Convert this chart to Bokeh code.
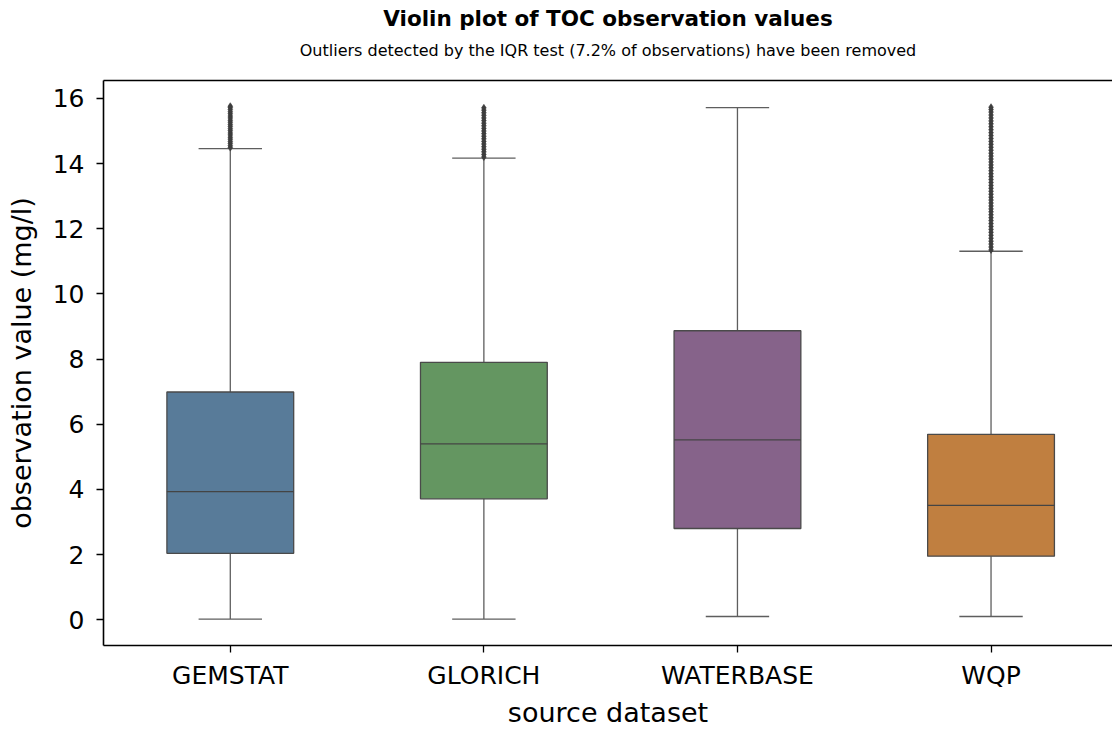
from bokeh.plotting import figure
from bokeh.models import Range1d, FixedTicker, LinearAxis
from bokeh.embed import file_html
from bokeh.resources import INLINE

# ---- data ----
categories = ["GEMSTAT", "GLORICH", "WATERBASE", "WQP"]
whisker_low = [0.02, 0.02, 0.10, 0.10]
q1 = [2.04, 3.71, 2.80, 1.95]
median = [3.93, 5.40, 5.52, 3.51]
q3 = [6.99, 7.90, 8.87, 5.69]
whisker_high = [14.46, 14.17, 15.72, 11.31]
colors = ["#587b99", "#649661", "#86638a", "#c07f40"]

outliers_gemstat = [14.49, 14.55, 14.62, 14.68, 14.75, 14.81, 14.88, 14.94, 15.01, 15.07,
                    15.14, 15.20, 15.27, 15.33, 15.40, 15.46, 15.53, 15.59, 15.66, 15.72, 15.76]
outliers_glorich = [14.20, 14.28, 14.36, 14.44, 14.52, 14.60, 14.68, 14.76, 14.84, 14.92,
                    15.00, 15.08, 15.16, 15.24, 15.32, 15.40, 15.48, 15.56, 15.64, 15.71]
outliers_waterbase = []
outliers_wqp = [11.35, 11.44, 11.53, 11.62, 11.71, 11.80, 11.89, 11.98, 12.07, 12.16,
                12.25, 12.34, 12.43, 12.52, 12.61, 12.70, 12.79, 12.88, 12.97, 13.06,
                13.15, 13.24, 13.33, 13.42, 13.51, 13.60, 13.69, 13.78, 13.87, 13.96,
                14.05, 14.14, 14.23, 14.32, 14.41, 14.50, 14.59, 14.68, 14.77, 14.86,
                14.95, 15.04, 15.13, 15.22, 15.31, 15.40, 15.49, 15.58, 15.66, 15.73]
outliers = [outliers_gemstat, outliers_glorich, outliers_waterbase, outliers_wqp]

y_ticks = [0, 2, 4, 6, 8, 10, 12, 14, 16]

title_text = "Violin plot of TOC observation values"
subtitle_text = "Outliers detected by the IQR test (7.2% of observations) have been removed"
x_label = "source dataset"
y_label = "observation value (mg/l)"

# ---- layout ----
FONT = "DejaVu Sans"
BOX_W = 0.5
CAP_W = 0.25
xs = [i + 0.5 for i, _ in enumerate(categories)]

p = figure(width=1112, height=730,
           x_range=Range1d(0, 3.979), y_range=Range1d(-0.79, 16.55),
           output_backend="svg", toolbar_location=None, title=None,
           min_border_left=103, min_border_right=0, min_border_top=80, min_border_bottom=85)
p.outline_line_color = None
p.xgrid.visible = False
p.ygrid.visible = False
p.background_fill_color = "white"
p.border_fill_color = "white"

# whiskers
p.segment(x0=xs, y0=q3, x1=xs, y1=whisker_high, line_color="#5e5e5e", line_width=1.3)
p.segment(x0=xs, y0=whisker_low, x1=xs, y1=q1, line_color="#5e5e5e", line_width=1.3)
# caps
p.segment(x0=[x - CAP_W / 2 for x in xs], y0=whisker_high,
          x1=[x + CAP_W / 2 for x in xs], y1=whisker_high, line_color="#5e5e5e", line_width=1.3)
p.segment(x0=[x - CAP_W / 2 for x in xs], y0=whisker_low,
          x1=[x + CAP_W / 2 for x in xs], y1=whisker_low, line_color="#5e5e5e", line_width=1.3)
# boxes
p.vbar(x=xs, width=BOX_W, bottom=q1, top=q3, fill_color=colors,
       line_color="#4a4a4a", line_width=1.3)
# medians
p.segment(x0=[x - BOX_W / 2 for x in xs], y0=median,
          x1=[x + BOX_W / 2 for x in xs], y1=median, line_color="#444444", line_width=1.3)
# outliers
ox, oy = [], []
for x, vals in zip(xs, outliers):
    for v in vals:
        ox.append(x)
        oy.append(v)
p.scatter(x=ox, y=oy, marker="diamond", size=7, fill_color="#3d3d3d",
          line_color="#3d3d3d", line_width=0.6)

# axes
xa = p.xaxis[0]
xa.ticker = FixedTicker(ticks=xs)
xa.major_label_overrides = {x: c for x, c in zip(xs, categories)}
ya = p.yaxis[0]
ya.ticker = FixedTicker(ticks=y_ticks)
for ax, lab in ((xa, x_label), (ya, y_label)):
    ax.axis_label = lab
    ax.axis_label_text_font = FONT
    ax.axis_label_text_font_size = "27px"
    ax.axis_label_text_font_style = "normal"
    ax.axis_label_text_color = "black"
    ax.major_label_text_font = FONT
    ax.major_label_text_font_size = "25px"
    ax.major_label_text_color = "black"
    ax.axis_line_width = 1.6
    ax.axis_line_color = "black"
    ax.major_tick_line_width = 1.3
    ax.major_tick_line_color = "black"
    ax.major_tick_out = 7
    ax.major_tick_in = 0
    ax.minor_tick_line_color = None
xa.major_label_standoff = 8
xa.axis_label_standoff = 4
ya.major_label_standoff = 12
ya.axis_label_standoff = 13

# top spine carrying the subtitle, and an outer (line-less) axis carrying the title
sub_axis = LinearAxis(ticker=FixedTicker(ticks=[]), axis_line_width=1.6, axis_line_color="black",
                      major_tick_line_color=None, minor_tick_line_color=None,
                      major_tick_out=0, major_tick_in=0,
                      major_label_text_font_size="0px", major_label_standoff=0,
                      axis_label=subtitle_text, axis_label_text_font=FONT,
                      axis_label_text_font_size="16px", axis_label_text_font_style="normal",
                      axis_label_text_color="black", axis_label_standoff=21)
p.add_layout(sub_axis, "above")
title_axis = LinearAxis(ticker=FixedTicker(ticks=[]), axis_line_color=None,
                        major_tick_line_color=None, minor_tick_line_color=None,
                        major_tick_out=0, major_tick_in=0,
                        major_label_text_font_size="0px", major_label_standoff=0,
                        axis_label=title_text, axis_label_text_font=FONT,
                        axis_label_text_font_size="21.5px", axis_label_text_font_style="bold",
                        axis_label_text_color="black", axis_label_standoff=7)
p.add_layout(title_axis, "above")

open("out.html", "w").write(file_html(p, INLINE))
